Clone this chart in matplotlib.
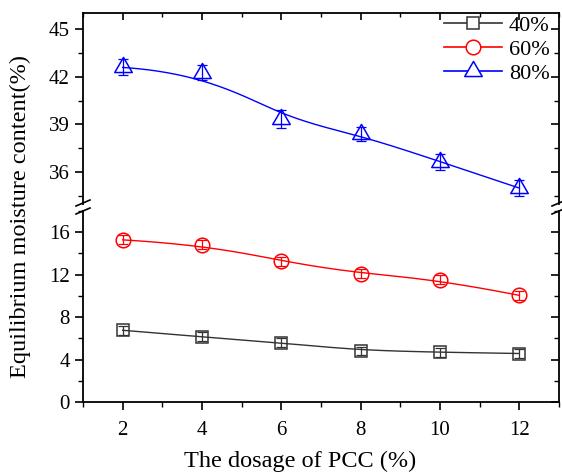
import numpy as np
import matplotlib.pyplot as plt
from matplotlib.ticker import MultipleLocator
from matplotlib.lines import Line2D
from matplotlib.path import Path

plt.rcParams['font.family'] = ['Liberation Serif', 'DejaVu Serif']
plt.rcParams['mathtext.fontset'] = 'stix'

dosage = [2, 4, 6, 8, 10, 12]
emc_40 = [6.76, 6.13, 5.60, 4.82, 4.69, 4.57]
err_40 = [0.42, 0.42, 0.42, 0.38, 0.42, 0.42]
emc_60 = [15.28, 14.84, 13.27, 12.08, 11.52, 10.05]
err_60 = [0.42, 0.42, 0.42, 0.42, 0.42, 0.42]
emc_80 = [42.58, 42.26, 39.34, 38.38, 36.66, 35.00]
err_80 = [0.50, 0.50, 0.55, 0.45, 0.50, 0.50]
labels = ['40%', '60%', '80%']


def basis(i, k, u, t):
    if k == 0:
        return ((t[i] <= u) & (u < t[i + 1])).astype(float)
    a = 0.0
    b = 0.0
    if t[i + k] != t[i]:
        a = (u - t[i]) / (t[i + k] - t[i]) * basis(i, k - 1, u, t)
    if t[i + k + 1] != t[i + 1]:
        b = (t[i + k + 1] - u) / (t[i + k + 1] - t[i + 1]) * basis(i + 1, k - 1, u, t)
    return a + b


def bspline(x, y, n=300, p=3):
    # clamped cubic B-spline with the data points as control points (Origin "B-Spline" connect)
    x = np.asarray(x, float)
    y = np.asarray(y, float)
    m = len(x)
    t = np.concatenate([[0] * p, np.linspace(0, 1, m - p + 1), [1] * p])
    u = np.linspace(0, 1 - 1e-9, n)
    N = np.array([basis(i, p, u, t) for i in range(m)])
    return N.T @ x, N.T @ y


# triangle centred on its centroid, as Origin draws it
tri = Path([(0, 1), (-0.87, -0.5), (0.87, -0.5), (0, 1)],
           [Path.MOVETO, Path.LINETO, Path.LINETO, Path.CLOSEPOLY])

fig = plt.figure(figsize=(5.62, 4.75), dpi=100)
L, W = 83 / 562, (559 - 83) / 562
ax_top = fig.add_axes([L, 1 - 204 / 475, W, (204 - 13) / 475])
ax_bot = fig.add_axes([L, 1 - 402 / 475, W, (402 - 211) / 475])

series = [(ax_bot, emc_40, err_40, '#333333', 's', 9),
          (ax_bot, emc_60, err_60, 'red', 'o', 10.5),
          (ax_top, emc_80, err_80, 'blue', tri, 14.5)]
handles = []
for (ax, y, e, c, mk, ms), lab in zip(series, labels):
    xs, ys = bspline(dosage, y)
    ax.plot(xs, ys, color=c, lw=1.0)
    ax.errorbar(dosage, y, yerr=e, fmt='none', ecolor=c, elinewidth=0.9,
                capsize=3.5, capthick=0.9)
    ax.plot(dosage, y, linestyle='none', marker=mk, ms=ms, mfc='none',
            mec=c, mew=1.1)
    handles.append(Line2D([], [], color=c, lw=1.2, marker=mk, ms=ms,
                          mfc='white', mec=c, mew=1.1))

for ax in (ax_top, ax_bot):
    ax.set_xlim(1, 13)
    ax.xaxis.set_major_locator(MultipleLocator(2))
    ax.xaxis.set_minor_locator(MultipleLocator(1))
    for s in ax.spines.values():
        s.set_linewidth(1.3)
    ax.tick_params(axis='y', which='both', left=True, right=True,
                   direction='out', labelsize=15)
    ax.tick_params(axis='y', which='major', length=6, width=1.2)
    ax.tick_params(axis='y', which='minor', length=3.5, width=1.0)

ax_top.set_ylim(34, 46)
ax_top.set_yticks([36, 39, 42, 45])
ax_top.yaxis.set_minor_locator(MultipleLocator(1.5))
ax_top.spines['bottom'].set_visible(False)
ax_top.tick_params(axis='x', which='both', bottom=False, labelbottom=False,
                   top=True, direction='in')
ax_top.tick_params(axis='x', which='major', length=5, width=1.2)
ax_top.tick_params(axis='x', which='minor', length=3, width=1.0)

ax_bot.set_ylim(0, 18)
ax_bot.set_yticks([0, 4, 8, 12, 16])
ax_bot.yaxis.set_minor_locator(MultipleLocator(2))
ax_bot.spines['top'].set_visible(False)
ax_bot.tick_params(axis='x', which='both', top=False, direction='out',
                   labelsize=15, pad=8)
ax_bot.tick_params(axis='x', which='major', length=6, width=1.2)
ax_bot.tick_params(axis='x', which='minor', length=3.5, width=1.0)

# right-side ticks point inward
for ax in (ax_top, ax_bot):
    for t in ax.yaxis.get_ticklines(minor=False)[1::2] + ax.yaxis.get_ticklines(minor=True)[1::2]:
        t.set_marker(0)

# break marks on the left and right spines
for xp in (83, 559):
    for yp in (203, 211):
        fig.add_artist(Line2D([(xp - 7) / 562, (xp + 7) / 562],
                              [1 - (yp + 3) / 475, 1 - (yp - 3) / 475],
                              transform=fig.transFigure, color='black', lw=1.2))

ax_top.legend(handles, labels, loc='upper right', frameon=False, fontsize=16,
              handlelength=2.6, handletextpad=0.3, labelspacing=0.15,
              borderaxespad=0.0, borderpad=0.1, bbox_to_anchor=(0.985, 1.0))

ax_bot.set_xlabel('The dosage of PCC (%)', fontsize=17.5)
ax_bot.xaxis.set_label_coords(0.456, -0.255)
fig.text(20 / 562, 1 - 217 / 475, 'Equilibrium moisture content(%)',
         rotation=90, ha='center', va='center', fontsize=17.5)

fig.savefig('out.png', dpi=100)
